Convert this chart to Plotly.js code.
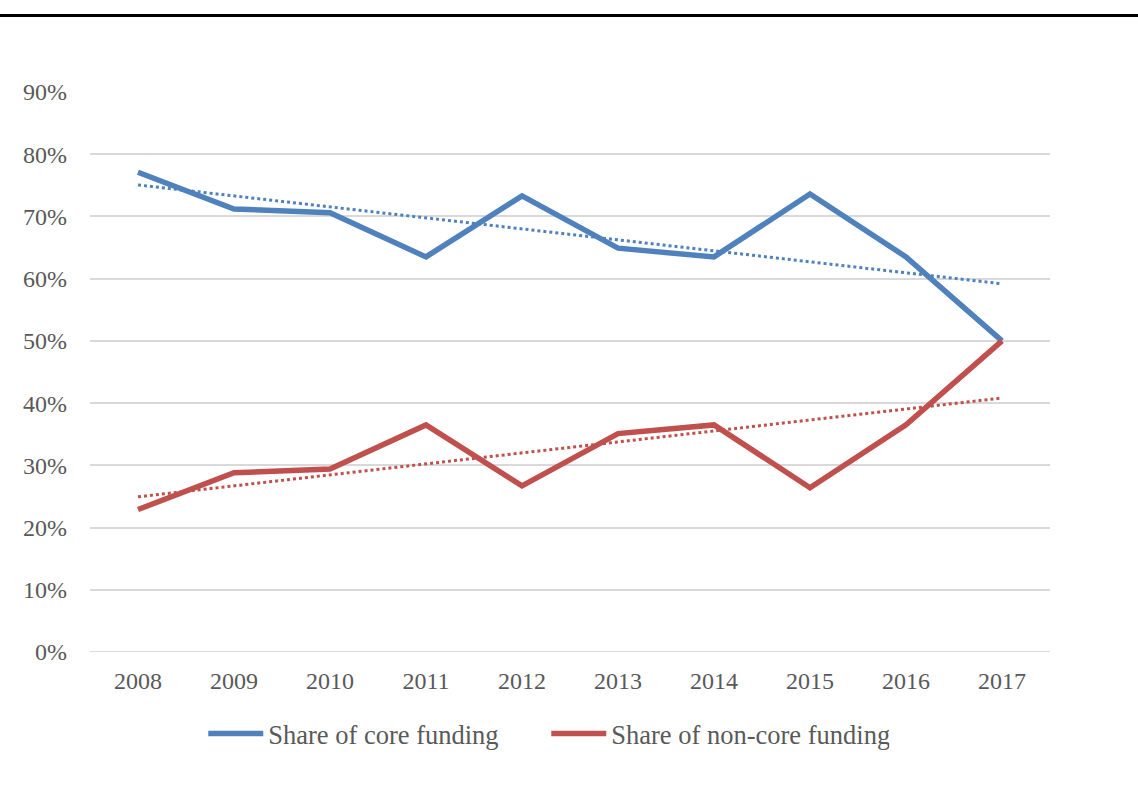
<!DOCTYPE html>
<html>
<head>
<meta charset="utf-8">
<script src="https://cdn.plot.ly/plotly-3.0.1.min.js"></script>
<style>html,body{margin:0;padding:0;background:#fff;}#chart{width:1138px;height:796px;}</style>
</head>
<body>
<div id="chart"></div>
<script>
const years = ['2008','2009','2010','2011','2012','2013','2014','2015','2016','2017'];
const coreShare = [0.771, 0.712, 0.706, 0.635, 0.733, 0.649, 0.635, 0.736, 0.635, 0.500];
const nonCoreShare = [0.229, 0.288, 0.294, 0.365, 0.267, 0.351, 0.365, 0.264, 0.365, 0.500];
const seriesNames = ['Share of core funding', 'Share of non-core funding'];

// linear (least squares) trendline, as in the spreadsheet chart
function trend(vals) {
  const n = vals.length;
  const xs = vals.map((_, i) => i + 1);
  const mx = xs.reduce((a, b) => a + b, 0) / n;
  const my = vals.reduce((a, b) => a + b, 0) / n;
  let sxy = 0, sxx = 0;
  xs.forEach((x, i) => { sxy += (x - mx) * (vals[i] - my); sxx += (x - mx) * (x - mx); });
  const b = sxy / sxx, a = my - b * mx;
  return xs.map(x => a + b * x);
}

const blue = '#4F81BD', red = '#C0504D';
const font = 'Liberation Serif, Times New Roman, serif';

const traces = [
  {x: years, y: coreShare, name: seriesNames[0], type: 'scatter', mode: 'lines',
   line: {color: blue, width: 5.5}},
  {x: years, y: nonCoreShare, name: seriesNames[1], type: 'scatter', mode: 'lines',
   line: {color: red, width: 5.5}},
  {x: years, y: trend(coreShare), type: 'scatter', mode: 'lines', showlegend: false, hoverinfo: 'skip',
   line: {color: blue, width: 3, dash: 'dot'}},
  {x: years, y: trend(nonCoreShare), type: 'scatter', mode: 'lines', showlegend: false, hoverinfo: 'skip',
   line: {color: red, width: 3, dash: 'dot'}}
];
// draw trends beneath the solid lines
const data = [traces[2], traces[3], traces[0], traces[1]];

const layout = {
  width: 1138, height: 796,
  margin: {l: 90, r: 88, t: 92, b: 144},
  paper_bgcolor: '#ffffff', plot_bgcolor: '#ffffff',
  font: {family: font, color: '#595959', size: 24},
  showlegend: true,
  legend: {orientation: 'h', x: 0.118, xanchor: 'left', y: -0.146, yanchor: 'middle',
           font: {family: font, size: 26.5, color: '#595959'}, itemwidth: 55,
           entrywidth: 273, entrywidthmode: 'pixels', traceorder: 'normal', bgcolor: 'rgba(0,0,0,0)'},
  xaxis: {type: 'category', range: [-0.5, 9.5], showgrid: false, zeroline: false, showline: false,
          ticks: '', ticklabelstandoff: 12, tickfont: {family: font, size: 24, color: '#595959'}, fixedrange: true},
  yaxis: {range: [0, 0.9], tickvals: [0,0.1,0.2,0.3,0.4,0.5,0.6,0.7,0.8,0.9], tickformat: '.0%',
          showgrid: true, gridcolor: '#d9d9d9', gridwidth: 2, zeroline: false, showline: false,
          ticks: '', ticklabelstandoff: 22, tickfont: {family: font, size: 24, color: '#595959'}, fixedrange: true},
  shapes: [
    {type: 'line', xref: 'paper', yref: 'paper', x0: -0.1, x1: 1.1, y0: 1.1366, y1: 1.1366,
     line: {color: '#000000', width: 3}},
    {type: 'line', xref: 'paper', yref: 'y', x0: 0, x1: 1, y0: 0, y1: 0, layer: 'below',
     line: {color: '#d9d9d9', width: 2}}
  ]
};

Plotly.newPlot('chart', data, layout, {displayModeBar: false, staticPlot: true});
</script>
</body>
</html>
